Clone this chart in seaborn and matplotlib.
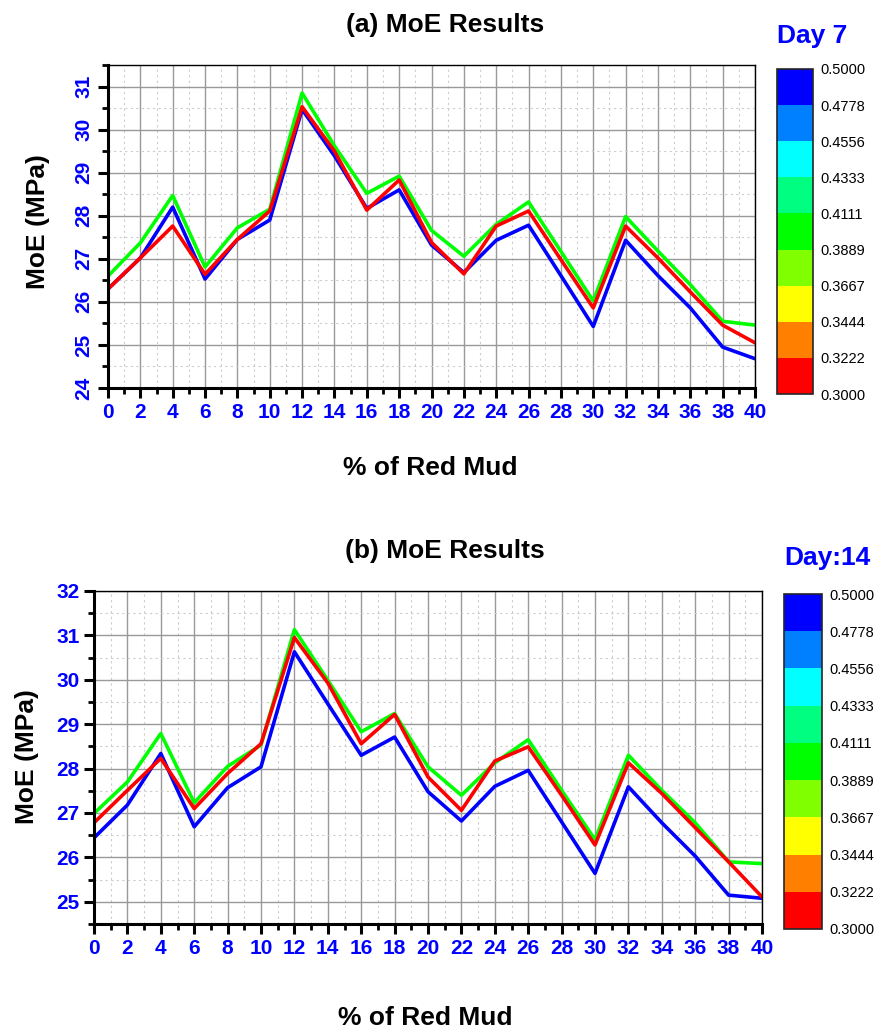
import numpy as np
import pandas as pd
import matplotlib
matplotlib.use("Agg")
import matplotlib.pyplot as plt
import seaborn as sns
from matplotlib.colors import ListedColormap, BoundaryNorm
from matplotlib.ticker import MultipleLocator
import matplotlib.colorbar as mcolorbar

# % of red mud on the x axis
red_mud = [0, 2, 4, 6, 8, 10, 12, 14, 16, 18, 20, 22, 24, 26, 28, 30, 32, 34, 36, 38, 40]

# (a) Day 7 MoE (MPa)
day7_green = [26.60, 27.37, 28.47, 26.81, 27.72, 28.15, 30.85, 29.62, 28.52, 28.92, 27.66,
              27.06, 27.80, 28.32, 27.17, 26.02, 27.98, 27.18, 26.40, 25.55, 25.46]
day7_blue = [26.30, 27.02, 28.20, 26.53, 27.45, 27.90, 30.47, 29.39, 28.17, 28.60, 27.32,
             26.68, 27.43, 27.78, 26.61, 25.43, 27.43, 26.61, 25.86, 24.95, 24.68]
day7_red = [26.30, 27.02, 27.76, 26.64, 27.45, 28.11, 30.53, 29.50, 28.13, 28.83, 27.38,
            26.65, 27.76, 28.11, 26.98, 25.86, 27.76, 27.02, 26.23, 25.46, 25.05]

# (b) Day 14 MoE (MPa)
day14_green = [26.99, 27.70, 28.79, 27.23, 28.05, 28.53, 31.13, 29.99, 28.83, 29.24, 28.04,
               27.40, 28.13, 28.65, 27.51, 26.40, 28.30, 27.51, 26.78, 25.90, 25.86]
day14_blue = [26.44, 27.18, 28.34, 26.69, 27.57, 28.04, 30.63, 29.46, 28.30, 28.71, 27.48,
              26.82, 27.60, 27.96, 26.80, 25.64, 27.59, 26.78, 26.03, 25.15, 25.08]
day14_red = [26.78, 27.51, 28.23, 27.10, 27.89, 28.56, 30.95, 29.93, 28.56, 29.22, 27.81,
             27.06, 28.17, 28.49, 27.40, 26.28, 28.13, 27.44, 26.67, 25.90, 25.11]

series_names = ["0.40", "0.50", "0.30"]
series_colors = {"0.40": "#00ff00", "0.50": "#0000ff", "0.30": "#ff0000"}

# colour scale on the right
cbar_edges = [0.3000, 0.3222, 0.3444, 0.3667, 0.3889, 0.4111, 0.4333, 0.4556, 0.4778, 0.5000]
cbar_colors = ["#ff0000", "#ff8000", "#ffff00", "#80ff00", "#00ff00",
               "#00ff80", "#00ffff", "#0080ff", "#0000ff"]

BLUE = "#0000ff"

sns.set_style("white")
plt.rcParams['font.family'] = ['Liberation Sans', 'DejaVu Sans']
plt.rcParams['text.color'] = 'black'
plt.rcParams['axes.labelcolor'] = 'black'
plt.rcParams['xtick.color'] = 'black'
plt.rcParams['ytick.color'] = 'black'


def make_df(g, b, r):
    rows = []
    for name, vals in zip(series_names, [g, b, r]):
        for x, v in zip(red_mud, vals):
            rows.append({"red_mud": x, "moe": v, "wc": name})
    return pd.DataFrame(rows)


def style_axes(ax, ymin, ymax, rotate_y):
    ax.set_xlim(0, 40)
    ax.set_ylim(ymin, ymax)
    ax.xaxis.set_major_locator(MultipleLocator(2))
    ax.xaxis.set_minor_locator(MultipleLocator(1))
    ax.yaxis.set_major_locator(MultipleLocator(1))
    ax.yaxis.set_minor_locator(MultipleLocator(0.5))
    ax.grid(which="major", color="#999999", linewidth=1.0, linestyle="-")
    ax.grid(which="minor", color="#cccccc", linewidth=0.8, linestyle=(0, (2, 3)))
    ax.set_axisbelow(True)
    for s in ["left", "bottom"]:
        ax.spines[s].set_linewidth(2.2)
        ax.spines[s].set_color("black")
    for s in ["top", "right"]:
        ax.spines[s].set_linewidth(1.0)
        ax.spines[s].set_color("black")
    ax.tick_params(which="major", direction="out", length=7, width=2.2,
                   labelsize=15, labelcolor=BLUE, top=False, right=False,
                   bottom=True, left=True)
    ax.tick_params(which="minor", direction="out", length=4, width=2.0,
                   top=False, right=False, bottom=True, left=True)
    for lab in ax.get_xticklabels() + ax.get_yticklabels():
        lab.set_fontweight("bold")
    if rotate_y:
        for lab in ax.get_yticklabels():
            lab.set_rotation(90)
            lab.set_va("center")
    ax.set_xlabel("")
    ax.set_ylabel("")


def add_cbar(fig, rect, title, title_xy):
    cax = fig.add_axes(rect)
    cmap = ListedColormap(cbar_colors)
    norm = BoundaryNorm(cbar_edges, cmap.N)
    cb = mcolorbar.ColorbarBase(cax, cmap=cmap, norm=norm, ticks=cbar_edges,
                                orientation="vertical")
    cb.ax.set_yticklabels([f"{v:.4f}" for v in cbar_edges])
    cb.ax.tick_params(length=0, labelsize=10.5, pad=5, labelcolor="black")
    cb.outline.set_linewidth(1.2)
    fig.text(title_xy[0], title_xy[1], title, color=BLUE, fontsize=19,
             fontweight="bold", ha="center", va="center")


W, H = 876, 1032
fig = plt.figure(figsize=(W / 100, H / 100), dpi=100)

# (a) Day 7
ax1 = fig.add_axes([108 / W, 1 - 388 / H, 647 / W, 323 / H])
df7 = make_df(day7_green, day7_blue, day7_red)
sns.lineplot(data=df7, x="red_mud", y="moe", hue="wc", hue_order=series_names,
             palette=series_colors, linewidth=2.6, legend=False, ax=ax1)
style_axes(ax1, 24, 31.5, rotate_y=True)
fig.text(445 / W, 1 - 25 / H, "(a) MoE Results", fontsize=19, fontweight="bold",
         ha="center", va="center")
fig.text(430 / W, 1 - 468 / H, "% of Red Mud", fontsize=19, fontweight="bold",
         ha="center", va="center")
fig.text(38 / W, 1 - 222 / H, "MoE (MPa)", fontsize=19, fontweight="bold",
         ha="center", va="center", rotation=90)
add_cbar(fig, [777 / W, 1 - 394 / H, 36 / W, 325 / H], "Day 7", (812 / W, 1 - 36 / H))

# (b) Day 14
ax2 = fig.add_axes([94 / W, 1 - 924 / H, 668 / W, 333 / H])
df14 = make_df(day14_green, day14_blue, day14_red)
sns.lineplot(data=df14, x="red_mud", y="moe", hue="wc", hue_order=series_names,
             palette=series_colors, linewidth=2.6, legend=False, ax=ax2)
style_axes(ax2, 24.5, 32, rotate_y=False)
fig.text(445 / W, 1 - 551 / H, "(b) MoE Results", fontsize=19, fontweight="bold",
         ha="center", va="center")
fig.text(425 / W, 1 - 1018 / H, "% of Red Mud", fontsize=19, fontweight="bold",
         ha="center", va="center")
fig.text(27 / W, 1 - 757 / H, "MoE (MPa)", fontsize=19, fontweight="bold",
         ha="center", va="center", rotation=90)
add_cbar(fig, [784 / W, 1 - 929 / H, 38 / W, 335 / H], "Day:14", (827 / W, 1 - 558 / H))

fig.savefig("out.png", dpi=100)
plt.close(fig)
